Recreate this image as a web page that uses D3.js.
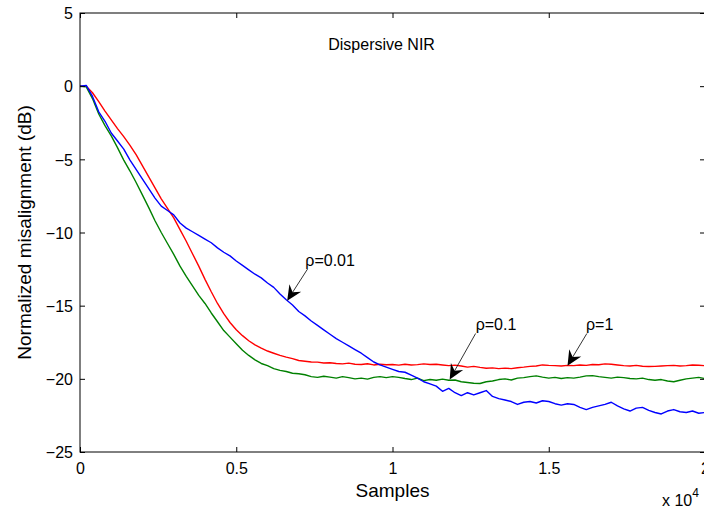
<!DOCTYPE html>
<html>
<head>
<meta charset="utf-8">
<script src="https://cdn.jsdelivr.net/npm/d3@7"></script>
<style>
  html, body { margin: 0; padding: 0; background: #fff; }
  svg { display: block; font-family: "Liberation Sans", Arial, Helvetica, sans-serif; }
  .tick text { font-size: 16px; fill: #000; }
  .tick line { stroke: #000; }
</style>
</head>
<body>
<div id="chart"></div>
<script>
// sample positions (every 200 samples, 0 .. 20000)
const samples = d3.range(0, 20001, 200)

// normalized misalignment in dB, one value per sample position
const rho1 = [
  0, 0, -0.45, -1.05, -1.7, -2.3, -2.9, -3.45, -4.05, -4.7,
  -5.45, -6.2, -6.95, -7.7, -8.35, -9.0, -9.8, -10.6, -11.45, -12.3,
  -13.2, -14.05, -14.85, -15.55, -16.15, -16.65, -17.05, -17.4, -17.68, -17.9,
  -18.1, -18.25, -18.4, -18.52, -18.62, -18.75, -18.8, -18.85, -18.86, -18.92,
  -18.9, -18.95, -18.98, -18.93, -19.0, -19.02, -18.97, -19.05, -19.0, -19.04,
  -19.02, -19.06, -19.0, -19.05, -19.03, -18.98, -19.02, -19.0, -19.05, -19.1,
  -19.06, -19.12, -19.2, -19.15, -19.22, -19.28, -19.25, -19.3, -19.27, -19.3,
  -19.24, -19.2, -19.15, -19.12, -19.05, -19.08, -19.1, -19.12, -19.08, -19.1,
  -19.05, -19.08, -19.02, -19.04, -18.98, -19.0, -19.05, -19.1, -19.12, -19.08,
  -19.14, -19.16, -19.15, -19.12, -19.1, -19.08, -19.12, -19.1, -19.05, -19.07,
  -19.1
]

const rho01 = [
  0, -0.05, -0.85, -1.9, -2.7, -3.4, -4.2, -5.05, -5.8, -6.6,
  -7.45, -8.3, -9.2, -10.0, -10.75, -11.5, -12.3, -13.0, -13.65, -14.3,
  -14.85, -15.5, -16.1, -16.7, -17.15, -17.6, -18.05, -18.4, -18.7, -18.95,
  -19.1, -19.3, -19.42, -19.5, -19.62, -19.65, -19.72, -19.85, -19.9, -19.82,
  -19.88, -19.95, -19.85, -19.92, -20.0, -19.95, -20.02, -19.9, -19.85, -19.92,
  -19.85, -19.9, -19.98, -20.05, -19.95, -20.12, -20.05, -20.1, -20.02, -20.1,
  -20.08, -20.2, -20.25, -20.3, -20.32, -20.2, -20.15, -20.05, -20.0, -20.08,
  -19.95, -19.92, -19.85, -19.8, -19.88, -19.95, -19.9, -19.98, -19.92, -19.95,
  -19.88, -19.8, -19.78, -19.85, -19.9, -19.95, -19.88, -19.92, -19.98, -20.0,
  -19.95, -20.05, -20.1, -20.05, -20.15, -20.2, -20.1, -20.0, -19.95, -19.9,
  -19.98
]

const rho001 = [
  0, 0.05, -0.7, -1.75, -2.4, -3.2, -3.75, -4.3, -5.05, -5.7,
  -6.35, -7.0, -7.65, -8.2, -8.5, -8.8, -9.35, -9.7, -9.95, -10.2,
  -10.45, -10.7, -11.05, -11.35, -11.6, -11.95, -12.25, -12.55, -12.85, -13.1,
  -13.45, -13.75, -14.2, -14.6, -14.95, -15.4, -15.7, -16.05, -16.35, -16.65,
  -16.95, -17.25, -17.5, -17.75, -18.0, -18.25, -18.55, -18.85, -19.05, -19.2,
  -19.35, -19.5, -19.55, -19.75, -19.95, -20.2, -20.35, -20.5, -20.85, -20.65,
  -20.95, -21.15, -20.95, -21.1, -20.95, -20.8, -21.2, -21.35, -21.45, -21.55,
  -21.75, -21.6, -21.55, -21.65, -21.5, -21.55, -21.7, -21.8, -21.7, -21.75,
  -21.95, -22.1, -21.95, -21.85, -21.75, -21.6, -21.85, -22.05, -22.2, -22.0,
  -21.95, -22.15, -22.3, -22.4, -22.2, -22.1, -22.25, -22.3, -22.2, -22.35,
  -22.3
]

const xTicks = [0, 5000, 10000, 15000, 20000]
const xTickLabels = ['0', '0.5', '1', '1.5', '2']
const yTicks = [-25, -20, -15, -10, -5, 0, 5]
const yTickLabels = ['\u221225', '\u221220', '\u221215', '\u221210', '\u22125', '0', '5']

// arrow annotations, in data units: text anchor, arrow tail, arrow tip
const annotations = [
  { label: '\u03c1=0.01', text: [7210, -12.3], tail: [7280, -12.5], tip: [6630, -14.66] },
  { label: '\u03c1=0.1', text: [12660, -16.65], tail: [12660, -16.9], tip: [11830, -20.05] },
  { label: '\u03c1=1', text: [16190, -16.65], tail: [16220, -16.9], tip: [15600, -19.1] },
]

const series = [
  { key: 'rho1', color: '#ff0000', values: rho1 },
  { key: 'rho01', color: '#008000', values: rho01 },
  { key: 'rho001', color: '#0000ff', values: rho001 },
]

const width = 704
const height = 512
const margin = { top: 13, right: -1, bottom: 60, left: 80 }

const svg = d3.select('#chart').append('svg').attr('width', width).attr('height', height)

const x = d3.scaleLinear().domain([0, 20000]).range([margin.left, width - margin.right])
const y = d3.scaleLinear().domain([-25, 5]).range([height - margin.bottom, margin.top])

svg.append('clipPath').attr('id', 'plot-clip')
  .append('rect')
  .attr('x', x(0)).attr('y', y(5))
  .attr('width', x(20000) - x(0)).attr('height', y(-25) - y(5))

// lines
const line = d3.line()
  .x((d, i) => x(samples[i]))
  .y((d) => y(d))

svg.append('g').attr('clip-path', 'url(#plot-clip)')
  .selectAll('path')
  .data(series)
  .join('path')
  .attr('fill', 'none')
  .attr('stroke', (d) => d.color)
  .attr('stroke-width', 1.4)
  .attr('stroke-linejoin', 'round')
  .attr('d', (d) => line(d.values))

// axes, ticks point inward like matlab
const axBottom = svg.append('g')
  .attr('transform', `translate(0,${y(-25)})`)
  .call(d3.axisBottom(x).tickValues(xTicks).tickSize(-5).tickPadding(11)
    .tickFormat((d, i) => xTickLabels[i]))
const axLeft = svg.append('g')
  .attr('transform', `translate(${x(0)},0)`)
  .call(d3.axisLeft(y).tickValues(yTicks).tickSize(-5).tickPadding(7)
    .tickFormat((d, i) => yTickLabels[i]))
const axTop = svg.append('g')
  .attr('transform', `translate(0,${y(5)})`)
  .call(d3.axisTop(x).tickValues(xTicks).tickSize(-5).tickFormat(''))
const axRight = svg.append('g')
  .attr('transform', `translate(${x(20000)},0)`)
  .call(d3.axisRight(y).tickValues(yTicks).tickSize(-5).tickFormat(''))

for (const a of [axBottom, axLeft, axTop, axRight]) {
  a.select('.domain').remove()
  a.attr('font-family', null).attr('font-size', null)
}
axLeft.selectAll('.tick text').attr('dy', '0.36em')

svg.append('rect')
  .attr('x', x(0)).attr('y', y(5))
  .attr('width', x(20000) - x(0)).attr('height', y(-25) - y(5))
  .attr('fill', 'none').attr('stroke', '#000').attr('stroke-width', 1)

// labels
svg.append('text')
  .attr('x', (x(0) + x(20000)) / 2).attr('y', 497)
  .attr('text-anchor', 'middle').attr('font-size', 19)
  .text('Samples')

svg.append('text')
  .attr('transform', `translate(31,${(y(5) + y(-25)) / 2}) rotate(-90)`)
  .attr('text-anchor', 'middle').attr('font-size', 19)
  .text('Normalized misalignment (dB)')

svg.append('text')
  .attr('x', x(9650)).attr('y', y(2.5))
  .attr('text-anchor', 'middle').attr('font-size', 16)
  .text('Dispersive NIR')

const expo = svg.append('text').attr('x', 662).attr('y', 506).attr('font-size', 16)
expo.append('tspan').text('x 10')
expo.append('tspan').attr('dy', -9).attr('font-size', 12).text('4')

// annotations
const ann = svg.append('g')
for (const a of annotations) {
  const [tx, ty] = [x(a.tail[0]), y(a.tail[1])]
  const [hx, hy] = [x(a.tip[0]), y(a.tip[1])]
  const len = Math.hypot(hx - tx, hy - ty)
  const ux = (hx - tx) / len
  const uy = (hy - ty) / len
  const px = -uy
  const py = ux
  const headLen = 15
  const headW = 7
  const bx = hx - ux * headLen
  const by = hy - uy * headLen
  const nx = hx - ux * (headLen - 5)
  const ny = hy - uy * (headLen - 5)

  ann.append('line')
    .attr('x1', tx).attr('y1', ty).attr('x2', nx).attr('y2', ny)
    .attr('stroke', '#000').attr('stroke-width', 0.8)
  ann.append('path')
    .attr('d', `M${hx},${hy}L${bx + px * headW},${by + py * headW}L${nx},${ny}L${bx - px * headW},${by - py * headW}Z`)
    .attr('fill', '#000')
  ann.append('text')
    .attr('x', x(a.text[0])).attr('y', y(a.text[1]))
    .attr('font-size', 16)
    .text(a.label)
}
</script>
</body>
</html>
